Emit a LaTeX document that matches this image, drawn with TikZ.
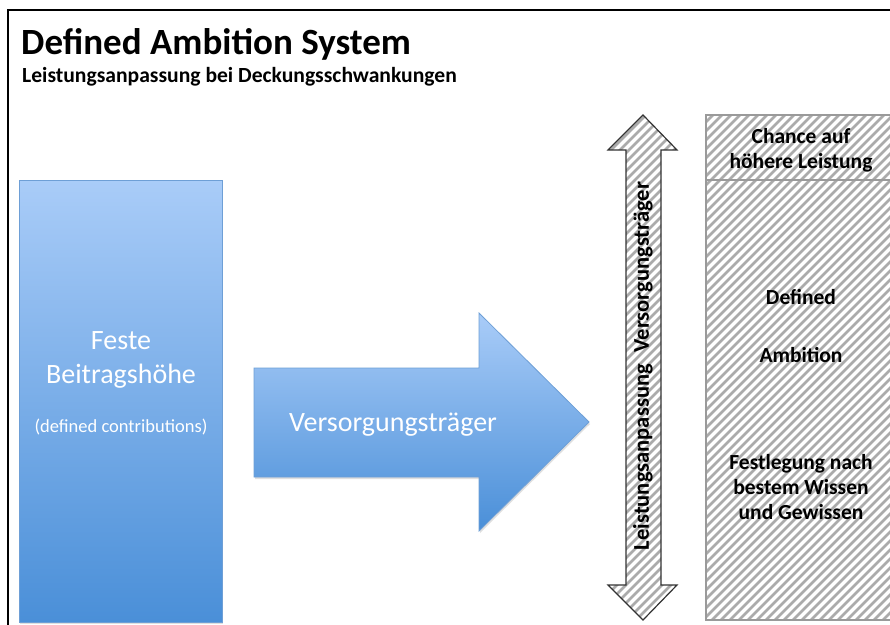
\documentclass[tikz,border=0pt]{standalone}
\usepackage{fontspec}
\setmainfont{Carlito}
\usetikzlibrary{shadows}
\definecolor{bluetop}{HTML}{A9CCF8}
\definecolor{bluebot}{HTML}{4A8FD8}
\definecolor{blueedge}{HTML}{6E9FD6}
\definecolor{hatchcol}{HTML}{ABABAB}
\definecolor{hatchedge}{HTML}{9A9A9A}
\definecolor{arrowedge}{HTML}{333333}
\tikzset{
  bluefill/.style={top color=bluetop, bottom color=bluebot, draw=blueedge, line width=0.8pt,
    drop shadow={opacity=0.25, shadow xshift=1pt, shadow yshift=-2pt}},
  hatchline/.style={draw=hatchcol, line width=2.6pt},
  hatchbox/.style={draw=hatchedge, line width=1.8pt},
  hatcharrow/.style={draw=arrowedge, line width=1.2pt},
  whitetext/.style={text=white, align=center, inner sep=0pt},
  boxtext/.style={font=\bfseries\fontsize{21.5}{25}\selectfont, align=center, inner sep=0pt},
}
\begin{document}
\begin{tikzpicture}[x=1pt,y=-1pt]
\useasboundingbox (0,0) rectangle (890,624);
\fill[white] (0,0) rectangle (890,624);
% frame
\draw[line width=2pt] (8,640) -- (8,10) -- (900,10);
% title
\node[anchor=base west, inner sep=0pt, font=\bfseries\fontsize{37}{40}\selectfont] (title) at (21,54) {Defined Ambition System};
\node[anchor=base west, inner sep=0pt, font=\bfseries\fontsize{21.6}{24}\selectfont] (subtitle) at (22,82) {Leistungsanpassung bei Deckungsschwankungen};
% left box
\node[bluefill, rectangle, minimum width=203pt, minimum height=442pt, anchor=north west] (feste) at (19,180) {};
\node[whitetext, font=\fontsize{28}{34}\selectfont] (festetxt) at (121,360) {Feste\\Beitragshöhe};
\node[whitetext, font=\fontsize{18.5}{22}\selectfont] (dc) at (121,427) {(defined contributions)};
% big arrow
\path[bluefill] (254,368) -- (479,368) -- (479,313) -- (589,422) -- (479,531) -- (479,477) -- (254,477) -- cycle;
\node[whitetext, font=\fontsize{28}{32}\selectfont] (vt) at (393,425) {Versorgungsträger};
% double arrow (hatched)
\begin{scope}
\clip (643,115) -- (677,150) -- (661,150) -- (661,585) -- (677,585) -- (643,620) -- (608,585) -- (626,585) -- (626,150) -- (608,150) -- cycle;
\foreach \k in {0,...,80} {\draw[hatchline] (600+9*\k-560,640) -- ++(560,-560);}
\end{scope}
\draw[hatcharrow] (643,115) -- (677,150) -- (661,150) -- (661,585) -- (677,585) -- (643,620) -- (608,585) -- (626,585) -- (626,150) -- (608,150) -- cycle;
\node[rotate=90, inner sep=0pt, font=\bfseries\fontsize{22.5}{24}\selectfont] (la) at (643,366) {Leistungsanpassung\hspace{0.3em} Versorgungsträger};
% right box (hatched)
\begin{scope}
\clip (706,115) rectangle (898,620);
\foreach \k in {0,...,90} {\draw[hatchline] (700+9*\k-520,630) -- ++(520,-520);}
\end{scope}
\draw[hatchbox] (706,115) rectangle (898,620);
\draw[hatchedge, line width=1.8pt] (706,180) -- (898,180);
\node[boxtext] (chance) at (801,150) {Chance auf\\höhere Leistung};
\node[boxtext] (defined) at (801,297) {Defined};
\node[boxtext] (ambition) at (801,355) {Ambition};
\node[boxtext] (festl) at (801,487) {Festlegung nach\\bestem Wissen\\und Gewissen};
\end{tikzpicture}
\end{document}
